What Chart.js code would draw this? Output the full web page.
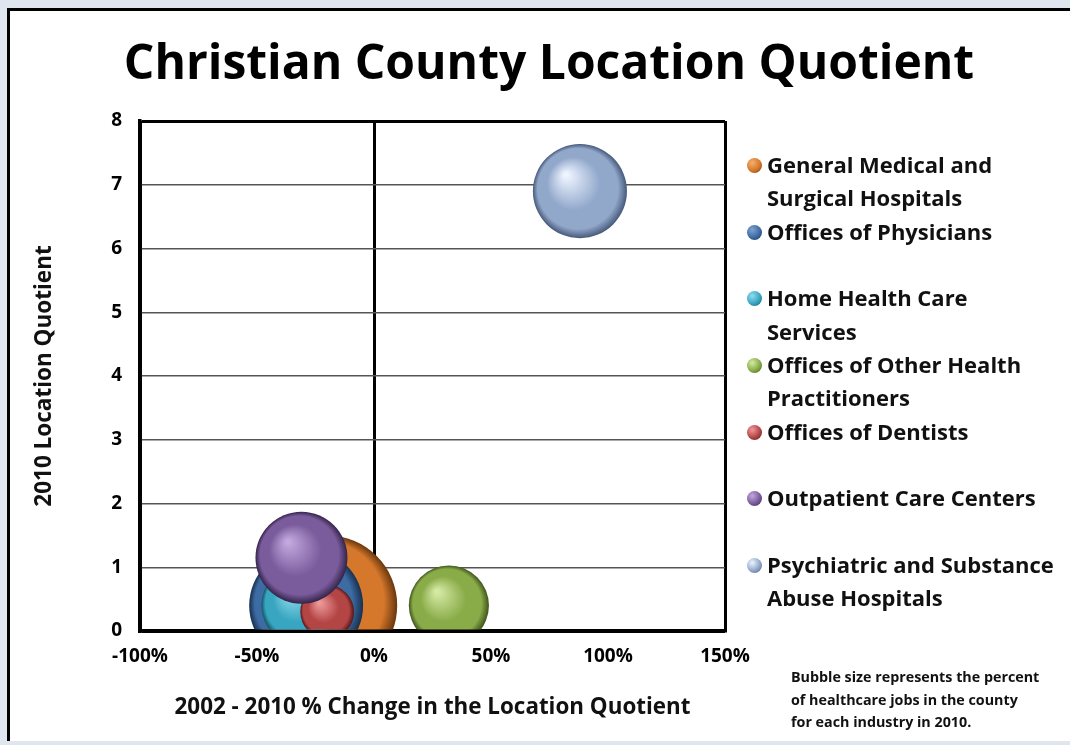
<!DOCTYPE html>
<html>
<head>
<meta charset="utf-8">
<title>Christian County Location Quotient</title>
<script src="https://cdn.jsdelivr.net/npm/chart.js@4.4.0/dist/chart.umd.min.js"></script>
<style>
  html, body { margin: 0; padding: 0; }
  body {
    width: 1070px; height: 745px; overflow: hidden; position: relative;
    background: #dfe6f0; font-family: 'Open Sans', Lato, sans-serif;
  }
  #panel {
    position: absolute; left: 7px; top: 8px; width: 1090px; height: 733px;
    background: #fff; border: 3px solid #000; border-bottom: none; box-sizing: border-box;
  }
  #wrap { position: absolute; left: 0; top: 0; width: 1070px; height: 745px; }
  #legend { position: absolute; left: 747px; top: 148px; }
  .item { display: flex; height: 66.7px; align-items: flex-start; }
  .dot { width: 15px; height: 15px; border-radius: 50%; margin: 10px 5px 0 0; flex: none; }
  .txt { font-weight: bold; font-size: 22px; line-height: 33.3px; color: #111; white-space: pre; }
  #note {
    position: absolute; left: 791px; top: 666px; font-weight: bold; font-size: 14.3px;
    line-height: 22.5px; color: #111; white-space: pre;
  }
</style>
</head>
<body>
<div id="panel"></div>
<div id="wrap"><canvas id="chart" width="1070" height="745"></canvas></div>
<div id="legend"></div>
<div id="note">Bubble size represents the percent
of healthcare jobs in the county
for each industry in 2010.</div>
<script>
// legend lines are split as in the original
const industries = [
  'General Medical and\nSurgical Hospitals',
  'Offices of Physicians',
  'Home Health Care\nServices',
  'Offices of Other Health\nPractitioners',
  'Offices of Dentists',
  'Outpatient Care Centers',
  'Psychiatric and Substance\nAbuse Hospitals'
];
const lqChange = [-20, -29, -31, 32, -20, -31, 88];    // 2002-2010 % change
const lq2010 = [0.4, 0.4, 0.4, 0.4, 0.3, 1.15, 6.9];
const jobShare = [29.9, 19.8, 9.8, 9.8, 4.4, 12.9, 13.5]; // % of healthcare jobs
const xTicks = [-100, -50, 0, 50, 100, 150];
const yTicks = [0, 1, 2, 3, 4, 5, 6, 7, 8];

// light / base / dark shade for each sphere
const shades = [
  ['#f4b06c', '#d5782c', '#6a360c'],
  ['#7fa2d0', '#3d6ba3', '#16304f'],
  ['#92dcee', '#38a6c0', '#135463'],
  ['#d4eaa4', '#89ab48', '#3f531b'],
  ['#ee9a9a', '#b44545', '#561616'],
  ['#c2a8de', '#7a5b9c', '#33244a'],
  ['#eef4ff', '#91a8cb', '#47597a']
];

function radiusFor(share) {
  return 12.8 * Math.sqrt(share);
}

function sphere(ctx) {
  const s = shades[ctx.datasetIndex];
  const chart = ctx.chart;
  if (ctx.type !== 'data' || !chart.chartArea) return s[1];
  const px = chart.scales.x.getPixelForValue(ctx.raw.x);
  const py = chart.scales.y.getPixelForValue(ctx.raw.y);
  const r = radiusFor(ctx.raw.share);
  const g = chart.ctx.createRadialGradient(px - r * 0.3, py - r * 0.35, r * 0.04, px, py, r);
  g.addColorStop(0, s[0]);
  g.addColorStop(0.55, s[1]);
  g.addColorStop(0.85, s[1]);
  g.addColorStop(1, s[2]);
  return g;
}

Chart.defaults.font.family = "'Open Sans', Lato, sans-serif";
Chart.defaults.color = '#000';

const datasets = industries.map((name, i) => ({
  label: name.replace('\n', ' '),
  data: [{ x: lqChange[i], y: lq2010[i], share: jobShare[i] }],
  order: industries.length - i,
  backgroundColor: sphere,
  borderWidth: 0,
  radius: (c) => radiusFor(c.raw.share),
  clip: { left: 0, top: 0, right: 0, bottom: -1.5 }
}));

new Chart(document.getElementById('chart'), {
  type: 'bubble',
  data: { datasets },
  options: {
    responsive: false,
    animation: false,
    events: [],
    layout: { padding: { left: 28, top: 0, right: 0, bottom: 0 } },
    plugins: {
      legend: { display: false },
      tooltip: { enabled: false },
      title: {
        display: true,
        text: 'Christian County Location Quotient',
        color: '#000',
        font: { size: 48, weight: 'bold' },
        padding: { top: 37, bottom: 26.4 }
      }
    },
    scales: {
      x: {
        type: 'linear',
        min: -100,
        max: 150,
        afterBuildTicks: (s) => { s.ticks = xTicks.map((v) => ({ value: v })); },
        afterFit: (s) => { s.height = 114; },
        ticks: {
          padding: 14,
          color: '#000',
          font: { size: 19, weight: 'bold' },
          callback: (v) => v + '%'
        },
        grid: {
          drawTicks: false,
          color: (c) => ([-100, 0, 150].includes(c.tick && c.tick.value) ? '#000' : 'rgba(0,0,0,0)'),
          lineWidth: 3
        },
        border: { display: true, color: '#000', width: 3.5 },
        title: {
          display: true,
          text: '2002 - 2010 % Change in the Location Quotient',
          color: '#111',
          font: { size: 22.4, weight: 'bold' },
          padding: { top: 0, bottom: 24 }
        }
      },
      y: {
        type: 'linear',
        min: 0,
        max: 8,
        afterBuildTicks: (s) => { s.ticks = yTicks.map((v) => ({ value: v })); },
        afterFit: (s) => { s.width = 112; },
        ticks: {
          padding: 18,
          color: '#000',
          font: { size: 19, weight: 'bold' }
        },
        grid: {
          drawTicks: false,
          color: (c) => (c.tick && (c.tick.value === 8 || c.tick.value === 0) ? '#000' : '#555'),
          lineWidth: (c) => (c.tick && (c.tick.value === 8 || c.tick.value === 0) ? 3 : 1.5)
        },
        border: { display: true, color: '#000', width: 3.5 },
        title: {
          display: true,
          text: '2010 Location Quotient',
          color: '#111',
          font: { size: 22.5, weight: 'bold' },
          padding: { top: 3, bottom: 0 }
        }
      },
      // empty axis that only reserves the room taken by the legend
      side: {
        type: 'linear',
        position: 'right',
        display: true,
        min: 0,
        max: 1,
        afterFit: (s) => { s.width = 345; },
        ticks: { display: false },
        grid: { display: false },
        border: { display: false }
      }
    }
  }
});

// legend with sphere markers, two lines per entry
const legend = document.getElementById('legend');
industries.forEach((name, i) => {
  const s = shades[i];
  const item = document.createElement('div');
  item.className = 'item';
  const dot = document.createElement('div');
  dot.className = 'dot';
  dot.style.background = 'radial-gradient(circle at 35% 32%, ' + s[0] + ' 0%, ' + s[1] + ' 55%, ' + s[2] + ' 100%)';
  const txt = document.createElement('div');
  txt.className = 'txt';
  txt.textContent = name;
  item.appendChild(dot);
  item.appendChild(txt);
  legend.appendChild(item);
});
</script>
</body>
</html>
